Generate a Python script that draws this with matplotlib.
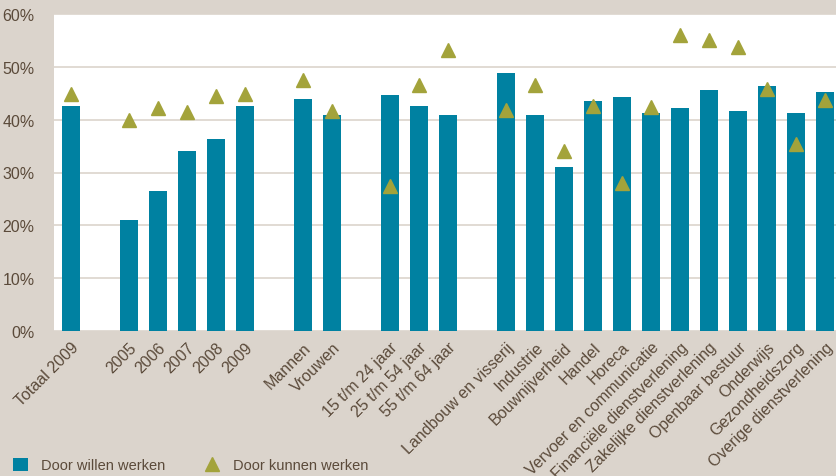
import matplotlib
matplotlib.use("Agg")
from matplotlib import pyplot as plt
from matplotlib.lines import Line2D
from matplotlib.patches import Patch
import numpy as np

# labels, with None for the empty slots between groups
labels = ["Totaal 2009", None,
          "2005", "2006", "2007", "2008", "2009", None,
          "Mannen", "Vrouwen", None,
          "15 t/m 24 jaar", "25 t/m 54 jaar", "55 t/m 64 jaar", None,
          "Landbouw en visserij", "Industrie", "Bouwnijverheid", "Handel", "Horeca",
          "Vervoer en communicatie", "Financiële dienstverlening",
          "Zakelijke dienstverlening", "Openbaar bestuur", "Onderwijs",
          "Gezondheidszorg", "Overige dienstverlening"]

willen = [42.5, None,
          21.0, 26.5, 34.0, 36.3, 42.5, None,
          44.0, 40.8, None,
          44.6, 42.5, 40.8, None,
          48.8, 40.8, 31.0, 43.5, 44.2, 41.2, 42.2, 45.6, 41.6, 46.3, 41.2, 45.2]

kunnen = [44.8, None,
          39.9, 42.3, 41.4, 44.4, 44.8, None,
          47.6, 41.6, None,
          27.5, 46.5, 53.2, None,
          41.9, 46.6, 34.1, 42.6, 28.0, 42.4, 56.0, 55.1, 53.7, 45.8, 35.3, 43.8]

blue = "#0081a1"
olive = "#a3a33b"
bg = "#dbd4cc"
txt = "#5b4a3a"

plt.rcParams['font.family'] = ['Liberation Sans', 'DejaVu Sans']

pos = [i for i, l in enumerate(labels) if l is not None]
names = [labels[i] for i in pos]
w_vals = [willen[i] for i in pos]
k_vals = [kunnen[i] for i in pos]

fig = plt.figure(figsize=(8.37, 4.77), dpi=100, facecolor=bg)
ax = fig.add_axes([54 / 837, 1 - 332 / 477, 1 - 54 / 837, 317 / 477])
ax.set_facecolor("white")

ax.bar(pos, w_vals, width=0.62, color=blue, zorder=2)
ax.plot(pos, k_vals, linestyle="none", marker="^", markersize=10,
        color=olive, zorder=3)

ax.set_ylim(0, 60)
ax.set_xlim(-0.59, 26.41)
ax.set_yticks(np.arange(0, 61, 10))
ax.set_yticklabels([f"{v}%" for v in range(0, 61, 10)])
ax.yaxis.grid(True, color=bg, linewidth=1.2, zorder=0)
ax.set_axisbelow(True)
for s in ax.spines.values():
    s.set_visible(False)

ax.set_xticks(pos)
ax.set_xticklabels(names, rotation=45, ha="right", va="top",
                   rotation_mode="anchor")
ax.tick_params(axis="both", length=0, colors=txt, labelsize=11.5)
ax.tick_params(axis="y", pad=14)
ax.tick_params(axis="x", pad=6)

handles = [Patch(facecolor=blue, edgecolor="none"),
           Line2D([], [], linestyle="none", marker="^", markersize=10, color=olive)]
fig.legend(handles, ["Door willen werken", "Door kunnen werken"],
           loc="lower left", bbox_to_anchor=(0.0, -0.02), ncol=2,
           frameon=False, fontsize=10.5, labelcolor=txt,
           handlelength=1.0, handleheight=1.0, handletextpad=0.9,
           columnspacing=2.75)

fig.savefig("out.png", dpi=100, facecolor=bg)
